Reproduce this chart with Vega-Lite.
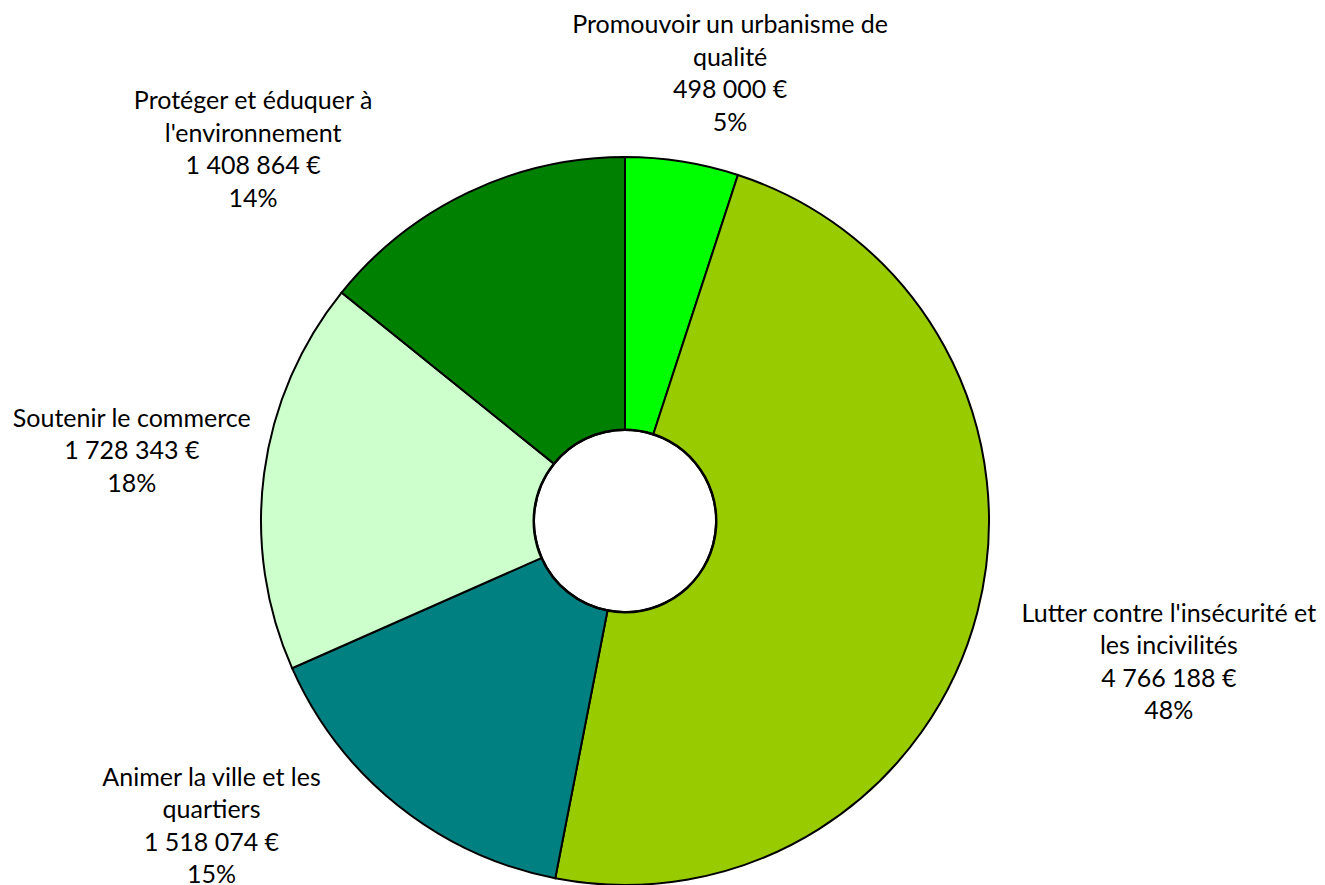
{
  "$schema": "https://vega.github.io/schema/vega-lite/v6.json",
  "autosize": "none",
  "width": 1250,
  "height": 728,
  "padding": {"left": 0, "top": 157, "right": 75, "bottom": 0},
  "background": "white",
  "config": {
    "view": {"stroke": null},
    "locale": {
      "number": {"decimal": ",", "thousands": " ", "grouping": [3], "currency": ["", " €"]}
    }
  },
  "data": {
    "values": [
      {"rank": 1, "category": "Promouvoir un urbanisme de qualité", "label": "Promouvoir un urbanisme de\nqualité", "amount": 498000},
      {"rank": 2, "category": "Lutter contre l'insécurité et les incivilités", "label": "Lutter contre l'insécurité et\nles incivilités", "amount": 4766188},
      {"rank": 3, "category": "Animer la ville et les quartiers", "label": "Animer la ville et les\nquartiers", "amount": 1518074},
      {"rank": 4, "category": "Soutenir le commerce", "label": "Soutenir le commerce", "amount": 1728343},
      {"rank": 5, "category": "Protéger et éduquer à l'environnement", "label": "Protéger et éduquer à\nl'environnement", "amount": 1408864}
    ]
  },
  "transform": [
    {"joinaggregate": [{"op": "sum", "field": "amount", "as": "total"}]},
    {"calculate": "datum.amount / datum.total * 100", "as": "raw"},
    {"calculate": "floor(datum.raw)", "as": "fl"},
    {"calculate": "datum.raw - datum.fl", "as": "rem"},
    {"joinaggregate": [{"op": "sum", "field": "fl", "as": "sumFl"}]},
    {"window": [{"op": "row_number", "as": "remRank"}], "sort": [{"field": "rem", "order": "descending"}]},
    {"calculate": "datum.fl + (datum.remRank <= 100 - datum.sumFl ? 1 : 0)", "as": "pct"},
    {"calculate": "datum.label + '\\n' + format(datum.amount, '$,') + '\\n' + datum.pct + '%'", "as": "fullLabel"}
  ],
  "encoding": {
    "theta": {"field": "amount", "type": "quantitative", "stack": true},
    "order": {"field": "rank", "type": "quantitative"}
  },
  "layer": [
    {
      "mark": {"type": "arc", "outerRadius": 364, "innerRadius": 91, "stroke": "black", "strokeWidth": 2},
      "encoding": {
        "color": {
          "field": "category",
          "type": "nominal",
          "legend": null,
          "scale": {
            "domain": ["Promouvoir un urbanisme de qualité", "Lutter contre l'insécurité et les incivilités", "Animer la ville et les quartiers", "Soutenir le commerce", "Protéger et éduquer à l'environnement"],
            "range": ["#00FF00", "#99CC00", "#008080", "#CCFFCC", "#008000"]
          }
        }
      }
    },
    {
      "mark": {"type": "arc", "outerRadius": 92.5, "innerRadius": 90, "fill": "black", "strokeWidth": 0},
      "encoding": {"detail": {"field": "category", "type": "nominal"}}
    },
    {
      "mark": {
        "type": "text",
        "radius": 440,
        "font": "Lato",
        "fontSize": 25,
        "lineHeight": 32.5,
        "lineBreak": "\n",
        "align": "center",
        "baseline": "middle",
        "color": "black",
        "dx": {"expr": "datum.rank == 1 ? 36 : datum.rank == 2 ? 118 : datum.rank == 3 ? -139 : datum.rank == 4 ? -57 : -182"},
        "dy": {"expr": "datum.rank == 1 ? -61 : datum.rank == 2 ? -18 : datum.rank == 3 ? -87 : datum.rank == 4 ? -45 : -23"}
      },
      "encoding": {
        "text": {"field": "fullLabel", "type": "nominal"},
        "detail": {"field": "category", "type": "nominal"}
      }
    }
  ]
}
